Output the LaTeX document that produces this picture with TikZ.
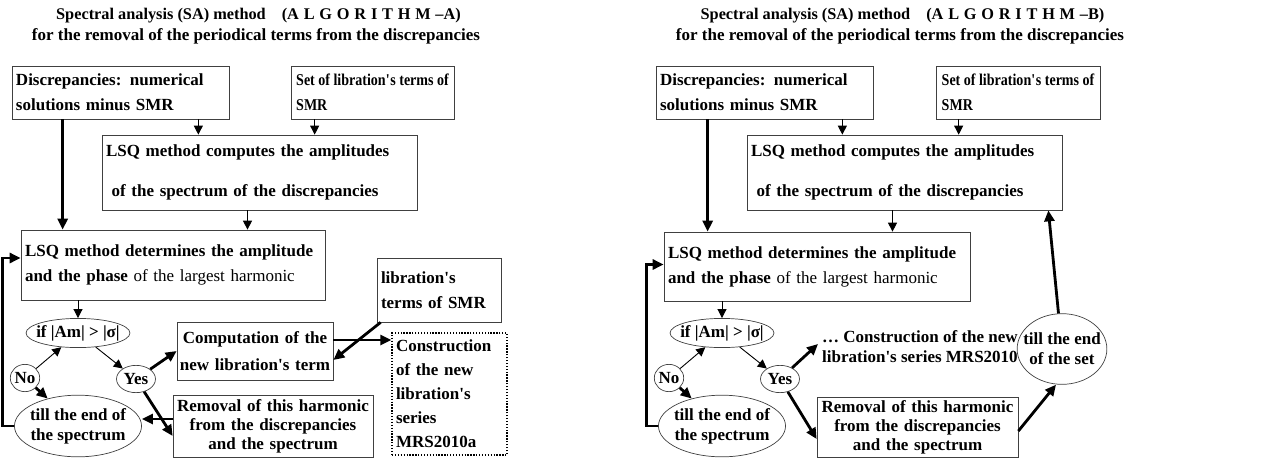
\documentclass[tikz,border=0pt]{standalone}
\usepackage{fontspec}
\setmainfont{Liberation Serif}
\newfontfamily\narrowserif[FakeStretch=0.85]{Liberation Serif}
\usetikzlibrary{shapes.geometric,arrows.meta}

\newcommand{\ap}{\textquotesingle}
\tikzset{
  box/.style={draw=black!75, line width=0.7pt, inner xsep=4pt, inner ysep=0pt, align=left},
  ell/.style={ellipse, draw=black!75, line width=0.7pt, align=center, font=\bfseries\fontsize{17}{20}\selectfont},
  lh/.style={font=\bfseries\fontsize{17}{#1}\selectfont},
  title/.style={font=\bfseries\fontsize{16.3}{20}\selectfont},
  thinarr/.style={-{Triangle[length=9pt,width=9pt]}, line width=0.9pt},
  thickarr/.style={-{Triangle[length=11pt,width=10pt]}, line width=2.8pt},
}

\begin{document}
\begin{tikzpicture}[x=1pt,y=1pt,yscale=-1,font=\fontsize{17}{20}\selectfont]
    \useasboundingbox (0,0) rectangle (1279,471);

    % Titles
    \node[title] (titA1) at (258.5,16) {Spectral analysis (SA) method\hspace{16pt}{\spaceskip=4.8pt plus 1pt(A L G O R I T H M --A)}};
    \node (titA2) at (256,36) {\bfseries for the removal of the periodical terms from the discrepancies};
    \node[title] (titB1) at (902.5,16) {Spectral analysis (SA) method\hspace{16pt}{\spaceskip=4.8pt plus 1pt(A L G O R I T H M --B)}};
    \node (titB2) at (900,36) {\bfseries for the removal of the periodical terms from the discrepancies};

    %% ALGORITHM A
    % Boxes
    \node[box, lh=25, text width=209pt, minimum height=53pt] (disA) at (120.5,92.5) {Discrepancies: numerical\\solutions minus SMR};
    \node[box, font=\narrowserif\bfseries\fontsize{16.5}{25}\selectfont, inner xsep=0pt, minimum width=163pt, minimum height=53pt] (setA) at (372.5,92.5) {Set of libration\ap s terms of\\SMR};
    \node[box, lh=40, text width=307pt, minimum height=75pt] (compA) at (259.5,172.5) {LSQ method computes the amplitudes\\\ of the spectrum of the discrepancies};
    \node[box, lh=25, text width=296pt, minimum height=70pt] (detA) at (173,265) {\textbf{LSQ method determines the amplitude}\\\textbf{and the phase} \mdseries of the largest harmonic\\[2pt]};
    \node[box, lh=25, text width=116pt, minimum height=64pt] (libA) at (439,290) {libration\ap s\\terms of SMR};
    \node[box, lh=27, align=center, inner xsep=0.5pt, text width=155pt, minimum height=58pt] (cmpuA) at (255,351) {Computation of the\\new libration\ap s term};
    \node[box, lh=19, align=center, text width=192pt, minimum height=62pt] (remA) at (273,426) {Removal of this harmonic\\from the discrepancies\\and the spectrum};
    \node[box, lh=24, dash pattern=on 1.3pt off 1.6pt, line width=1.3pt, draw=black, text width=107pt, minimum height=122pt] (consA) at (449.5,394) {Construction\\of the new\\libration\ap s\\series\\MRS2010a};
    % Ellipses
    \node[ell, inner xsep=-5pt, inner ysep=2.5pt] (ifA) at (78,333) {if |Am| > |σ|};
    \node[ell, inner xsep=0pt, inner ysep=4pt] (noA) at (25,378) {No};
    \node[ell, inner xsep=1.5pt, inner ysep=4pt] (yesA) at (136,379) {Yes};
    \node[ell, lh=20, inner xsep=-3pt, inner ysep=4pt] (spA) at (78,426) {till the end of\\the spectrum};

    % Connectors
    \draw[thickarr] ([xshift=51pt]disA.south west) -- ([xshift=51pt]disA.south west |- detA.north);
    \draw[thinarr] ([xshift=-31pt]disA.south east) -- ([xshift=-31pt]disA.south east |- compA.north);
    \draw[thinarr] ([xshift=24pt]setA.south west) -- ([xshift=24pt]setA.south west |- compA.north);
    \draw[thinarr] ([xshift=-12pt]compA.south) -- ([xshift=-12pt]compA.south |- detA.north);
    \draw[thinarr] (ifA.north |- detA.south) -- (ifA.north);
    \draw[thickarr] (spA.west) -- ++(-12,0) |- ([yshift=-7pt]detA.west);
    \draw[thinarr] (noA) -- (ifA);
    \draw[thinarr] (ifA) -- (yesA);
    \draw[thickarr] (noA) -- (spA);
    \draw[thickarr] (yesA) -- (cmpuA.west);
    \draw[thickarr] (yesA) -- ([yshift=10pt]remA.west);
    \draw[thickarr] ([xshift=4pt]libA.south west) -- ([yshift=9pt]cmpuA.east);
    \draw[thickarr] ([yshift=-11pt]cmpuA.east) -- ([yshift=-11pt]cmpuA.east -| consA.west);
    \draw[thickarr] ([yshift=-7pt]remA.west) -- ([yshift=-7pt]remA.west -| spA.east);

    %% ALGORITHM B
    % Boxes
    \node[box, lh=25, text width=209pt, minimum height=53pt] (disB) at (764.5,92.5) {Discrepancies: numerical\\solutions minus SMR};
    \node[box, font=\narrowserif\bfseries\fontsize{16.5}{25}\selectfont, inner xsep=0pt, minimum width=164pt, minimum height=53pt] (setB) at (1018,92.5) {Set of libration\ap s terms of\\SMR};
    \node[box, lh=40, text width=307pt, minimum height=75pt] (compB) at (904.5,172.5) {LSQ method computes the amplitudes\\\ of the spectrum of the discrepancies};
    \node[box, lh=25, text width=298pt, minimum height=69pt] (detB) at (817,266.5) {\textbf{LSQ method determines the amplitude}\\\textbf{and the phase} \mdseries of the largest harmonic\\[2pt]};
    \node[box, lh=19, align=center, text width=193pt, minimum height=60pt] (remB) at (917.5,427) {Removal of this harmonic\\from the discrepancies\\and the spectrum};
    \node[lh=20, align=left, anchor=west, inner sep=0pt] (consB) at (822,347) {\ldots{} Construction of the new\\libration\ap s series MRS2010};
    % Ellipses
    \node[ell, inner xsep=-5pt, inner ysep=2.5pt] (ifB) at (722,333) {if |Am| > |σ|};
    \node[ell, inner xsep=0pt, inner ysep=4pt] (noB) at (669,378) {No};
    \node[ell, inner xsep=1.5pt, inner ysep=4pt] (yesB) at (780,379) {Yes};
    \node[ell, lh=20, inner xsep=-3pt, inner ysep=4pt] (spB) at (722,426) {till the end of\\the spectrum};
    \node[ell, lh=20, inner xsep=-7pt, inner ysep=9pt] (endB) at (1062,349) {till the end\\of the set};

    % Connectors
    \draw[thickarr] ([xshift=52pt]disB.south west) -- ([xshift=52pt]disB.south west |- detB.north);
    \draw[thinarr] ([xshift=-31pt]disB.south east) -- ([xshift=-31pt]disB.south east |- compB.north);
    \draw[thinarr] ([xshift=23pt]setB.south west) -- ([xshift=23pt]setB.south west |- compB.north);
    \draw[thinarr] ([xshift=-12pt]compB.south) -- ([xshift=-12pt]compB.south |- detB.north);
    \draw[thinarr] (ifB.north |- detB.south) -- (ifB.north);
    \draw[thickarr] (spB.west) -- ++(-12,0) |- ([yshift=-2pt]detB.west);
    \draw[thinarr] (noB) -- (ifB);
    \draw[thinarr] (ifB) -- (yesB);
    \draw[thickarr] (noB) -- (spB);
    \draw[thickarr] (yesB) -- ([xshift=-4pt,yshift=-3pt]consB.west);
    \draw[thickarr] (yesB) -- ([yshift=12pt]remB.west);
    \draw[thickarr] ([yshift=4pt]remB.east) -- ([xshift=-6pt]endB.south);
    \draw[thickarr] (endB) -- ([xshift=-14pt]compB.south east);
\end{tikzpicture}
\end{document}
